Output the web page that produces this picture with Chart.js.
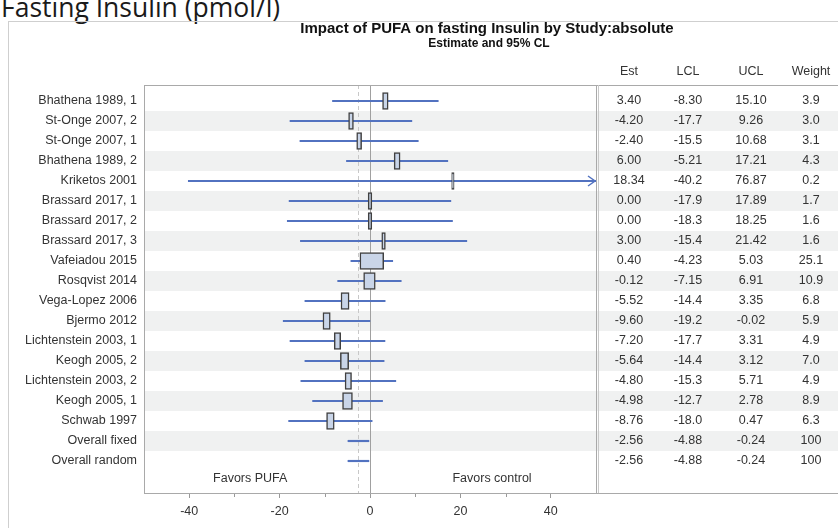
<!DOCTYPE html>
<html>
<head>
<meta charset="utf-8">
<script src="https://cdn.jsdelivr.net/npm/chart.js@4.4.1/dist/chart.umd.min.js"></script>
<style>
  body { margin: 0; background: #fff; overflow: hidden; }
  #page { position: relative; width: 838px; height: 528px; overflow: hidden; }
  #heading { position: absolute; left: 1px; top: -11px; font: 26.5px "Open Sans", sans-serif; color: #1a1a1a; white-space: nowrap; }
  #frame { position: absolute; left: 8px; top: 21px; width: 900px; height: 600px; border: 1px solid #cfcfcf; }
  canvas { position: absolute; left: 0; top: 0; }
</style>
</head>
<body>
<div id="page">
  <div id="heading">Fasting Insulin (pmol/l)</div>
  <div id="frame"></div>
  <canvas id="forest" width="838" height="528"></canvas>
</div>
<script>
// rows, top to bottom
const studies = [
  'Bhathena 1989, 1', 'St-Onge 2007, 2', 'St-Onge 2007, 1', 'Bhathena 1989, 2',
  'Kriketos 2001', 'Brassard 2017, 1', 'Brassard 2017, 2', 'Brassard 2017, 3',
  'Vafeiadou 2015', 'Rosqvist 2014', 'Vega-Lopez 2006', 'Bjermo 2012',
  'Lichtenstein 2003, 1', 'Keogh 2005, 2', 'Lichtenstein 2003, 2', 'Keogh 2005, 1',
  'Schwab 1997', 'Overall fixed', 'Overall random'
];
const est = [3.40, -4.20, -2.40, 6.00, 18.34, 0.00, 0.00, 3.00, 0.40, -0.12, -5.52, -9.60, -7.20, -5.64, -4.80, -4.98, -8.76, -2.56, -2.56];
const lcl = [-8.30, -17.7, -15.5, -5.21, -40.2, -17.9, -18.3, -15.4, -4.23, -7.15, -14.4, -19.2, -17.7, -14.4, -15.3, -12.7, -18.0, -4.88, -4.88];
const ucl = [15.10, 9.26, 10.68, 17.21, 76.87, 17.89, 18.25, 21.42, 5.03, 6.91, 3.35, -0.02, 3.31, 3.12, 5.71, 2.78, 0.47, -0.24, -0.24];
const weight = [3.9, 3.0, 3.1, 4.3, 0.2, 1.7, 1.6, 1.6, 25.1, 10.9, 6.8, 5.9, 4.9, 7.0, 4.9, 8.9, 6.3, 100, 100];

const tableHeaders = ['Est', 'LCL', 'UCL', 'Weight'];
const xTicks = [-40, -20, 0, 20, 40];
const xMinorTicks = [-30, -10, 10, 30];
const sideLabels = ['Favors PUFA', 'Favors control'];
const sideLabelX = [-26.5, 27];

const overallEst = est[studies.indexOf('Overall fixed')];
const FONT = "'Liberation Sans', Arial, sans-serif";
const TEXT = '#333';
const WHISKER = '#5272c0';

const isStudy = name => !name.startsWith('Overall');
const fmt = [
  v => v.toFixed(2),
  v => v.toPrecision(3),
  v => v.toFixed(2),
  v => (v >= 100 ? String(v) : v.toFixed(1))
];
const colX = [629, 688, 751, 811];

// box width grows with the study weight
const boxWidth = w => 0.19 * w + 0.5;

const whiskers = studies.map((s, i) => ({ x: [lcl[i], ucl[i]], y: i }));
const boxes = studies
  .map((s, i) => ({ s, i }))
  .filter(r => isStudy(r.s))
  .map(({ i }) => ({ x: [est[i] - boxWidth(weight[i]) / 2, est[i] + boxWidth(weight[i]) / 2], y: i }));

const forestDecor = {
  id: 'forestDecor',
  beforeDatasetsDraw(chart) {
    const { ctx, chartArea: a, scales: { x, y } } = chart;
    ctx.save();
    ctx.fillStyle = '#f0f1f1';
    studies.forEach((s, i) => {
      if (i % 2 === 1) {
        const top = y.getPixelForValue(i - 0.5);
        const bot = y.getPixelForValue(i + 0.5);
        ctx.fillRect(a.left + 1, top, chart.width - a.left, bot - top);
      }
    });
    // zero line and overall estimate
    const x0 = Math.round(x.getPixelForValue(0)) + 0.5;
    ctx.strokeStyle = '#a0a0a0';
    ctx.lineWidth = 1;
    ctx.beginPath(); ctx.moveTo(x0, a.top); ctx.lineTo(x0, a.bottom); ctx.stroke();
    const xo = Math.round(x.getPixelForValue(overallEst)) + 0.5;
    ctx.strokeStyle = '#c8c8c8';
    ctx.setLineDash([4, 3]);
    ctx.beginPath(); ctx.moveTo(xo, a.top); ctx.lineTo(xo, a.bottom); ctx.stroke();
    ctx.restore();
  },
  afterDraw(chart) {
    const { ctx, chartArea: a, scales: { x, y } } = chart;
    ctx.save();

    // arrows for intervals running off the axis
    ctx.strokeStyle = WHISKER;
    ctx.lineWidth = 1.5;
    studies.forEach((s, i) => {
      if (ucl[i] > x.max) {
        const py = y.getPixelForValue(i);
        ctx.beginPath();
        ctx.moveTo(a.right - 8, py - 5);
        ctx.lineTo(a.right - 1, py);
        ctx.lineTo(a.right - 8, py + 5);
        ctx.stroke();
      }
    });

    // frames
    ctx.strokeStyle = '#a9a9a9';
    ctx.lineWidth = 1;
    ctx.strokeRect(a.left + 0.5, a.top + 0.5, a.right - a.left, a.bottom - a.top);
    ctx.beginPath();
    ctx.moveTo(a.right, a.top + 0.5); ctx.lineTo(chart.width, a.top + 0.5);
    ctx.moveTo(a.right, a.bottom + 0.5); ctx.lineTo(chart.width, a.bottom + 0.5);
    ctx.stroke();
    ctx.strokeStyle = '#c8c8c8';
    ctx.beginPath();
    ctx.moveTo(a.right + 2.5, a.top); ctx.lineTo(a.right + 2.5, a.bottom);
    ctx.stroke();

    // minor ticks
    ctx.strokeStyle = '#999';
    xMinorTicks.forEach(v => {
      const px = Math.round(x.getPixelForValue(v)) + 0.5;
      ctx.beginPath(); ctx.moveTo(px, a.bottom + 1); ctx.lineTo(px, a.bottom + 4); ctx.stroke();
    });

    // favors labels
    ctx.fillStyle = TEXT;
    ctx.font = '12.5px ' + FONT;
    ctx.textAlign = 'center';
    ctx.textBaseline = 'middle';
    sideLabels.forEach((t, k) => {
      ctx.fillText(t, x.getPixelForValue(sideLabelX[k]), y.getPixelForValue(18.9));
    });

    // table
    tableHeaders.forEach((h, k) => ctx.fillText(h, colX[k], 72));
    const cols = [est, lcl, ucl, weight];
    studies.forEach((s, i) => {
      const py = y.getPixelForValue(i);
      cols.forEach((c, k) => ctx.fillText(fmt[k](c[i]), colX[k], py));
    });

    // titles
    ctx.fillStyle = '#111';
    ctx.font = 'bold 15px ' + FONT;
    ctx.fillText('Impact of PUFA on fasting Insulin by Study:absolute', 487, 29);
    ctx.font = 'bold 12px ' + FONT;
    ctx.fillText('Estimate and 95% CL', 489, 44);
    ctx.restore();
  }
};

new Chart(document.getElementById('forest'), {
  type: 'bar',
  data: {
    datasets: [
      {
        label: 'Weight',
        data: boxes,
        backgroundColor: '#c9d5e8',
        borderColor: '#404040',
        borderWidth: 1.5,
        borderSkipped: false,
        barThickness: 17,
        grouped: false,
        order: 0
      },
      {
        label: '95% CL',
        data: whiskers,
        backgroundColor: WHISKER,
        borderWidth: 0,
        barThickness: 1.5,
        grouped: false,
        order: 1
      }
    ]
  },
  options: {
    indexAxis: 'y',
    responsive: false,
    animation: false,
    layout: { padding: { top: 85, right: 242, left: 0, bottom: 0 } },
    plugins: { legend: { display: false }, tooltip: { enabled: false } },
    scales: {
      x: {
        type: 'linear',
        min: -50,
        max: 50,
        afterBuildTicks: s => { s.ticks = xTicks.map(v => ({ value: v })); },
        afterFit: s => { s.height = 35; },
        border: { display: false },
        grid: { drawOnChartArea: false, drawTicks: true, tickLength: 5, color: '#999' },
        ticks: { color: TEXT, font: { family: FONT, size: 12.5 }, padding: 6 }
      },
      y: {
        type: 'linear',
        reverse: true,
        offset: false,
        min: -0.8,
        max: 19.6,
        afterBuildTicks: s => { s.ticks = studies.map((n, i) => ({ value: i })); },
        afterFit: s => { s.width = 144; },
        border: { display: false },
        grid: { display: false, drawTicks: false },
        ticks: {
          color: TEXT,
          font: { family: FONT, size: 12.5 },
          padding: 7,
          autoSkip: false,
          callback: v => studies[v]
        }
      }
    }
  },
  plugins: [forestDecor]
});
</script>
</body>
</html>
